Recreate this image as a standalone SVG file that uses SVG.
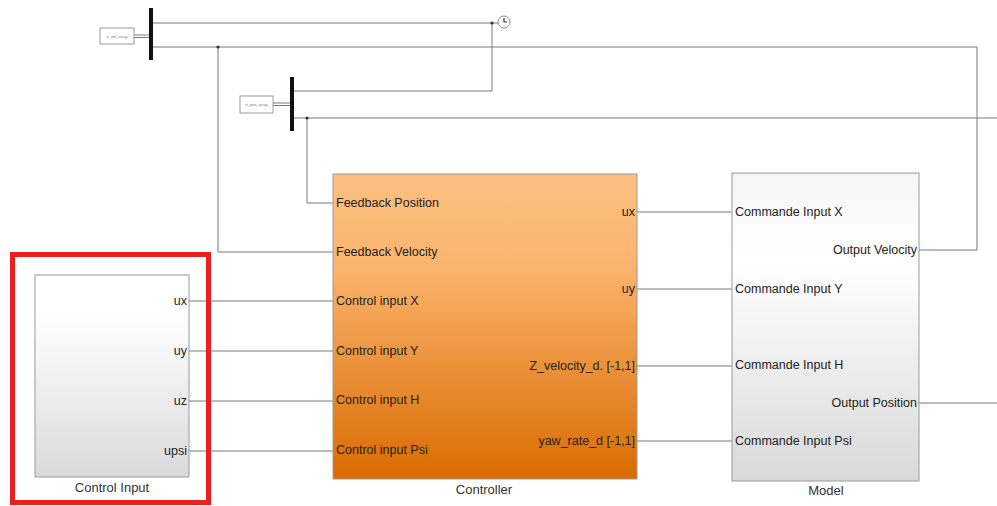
<svg xmlns="http://www.w3.org/2000/svg" width="997" height="506" viewBox="0 0 997 506">
<defs>
<linearGradient id="gOrange" x1="0" y1="0" x2="0" y2="1">
<stop offset="0" stop-color="#fdc081"/>
<stop offset="0.3" stop-color="#fbb46d"/>
<stop offset="1" stop-color="#d96b00"/>
</linearGradient>
<linearGradient id="gGrey" x1="0" y1="0" x2="0" y2="1">
<stop offset="0" stop-color="#f6f6f6"/>
<stop offset="0.3" stop-color="#ffffff"/>
<stop offset="1" stop-color="#d9d9d9"/>
</linearGradient>
<linearGradient id="gGrey2" x1="0" y1="0" x2="0" y2="1">
<stop offset="0" stop-color="#ffffff"/>
<stop offset="0.2" stop-color="#ffffff"/>
<stop offset="1" stop-color="#dadada"/>
</linearGradient>
</defs>
<style>
.w{fill:none;stroke:#7a7a7a;stroke-width:1}
.blk{stroke:#9a9a9a;stroke-width:1}
.pl{font-family:"Liberation Sans",Arial,sans-serif;font-size:12.5px;fill:#222222}
.nm{font-family:"Liberation Sans",Arial,sans-serif;font-size:13px;fill:#333333;text-anchor:middle}
.tiny{font-family:"Liberation Sans",Arial,sans-serif;font-size:4px;fill:#777777;text-anchor:middle}
.bar{fill:#111111}
.dot{fill:#333333}
</style>
<rect width="997" height="506" fill="#ffffff"/>

<g id="connectors">
<path class="w" d="M153 23 H498"/>
<path class="w" d="M153 47 H977 V250 H919"/>
<path class="w" d="M218 47 V252 H333"/>
<path class="w" d="M294 91 H492 V23"/>
<path class="w" d="M294 118 H997"/>
<path class="w" d="M307 118 V203 H333"/>
<path class="w" d="M134 35 H149 M134 37.5 H149"/>
<path class="w" d="M273 103 H290 M273 105.5 H290"/>
<path class="w" d="M189 301 H333"/>
<path class="w" d="M189 351 H333"/>
<path class="w" d="M189 401 H333"/>
<path class="w" d="M189 451 H333"/>
<path class="w" d="M637 212 H732"/>
<path class="w" d="M637 289 H732"/>
<path class="w" d="M637 366 H732"/>
<path class="w" d="M637 441 H732"/>
<path class="w" d="M919 403 H997"/>
<circle class="dot" cx="492" cy="23" r="1.6"/>
<circle class="dot" cx="218" cy="47" r="1.6"/>
<circle class="dot" cx="307" cy="118" r="1.6"/>
</g>

<g id="velArray">
<rect x="100" y="28" width="34" height="16" fill="#ffffff" stroke="#9a9a9a" stroke-width="1"/>
<text class="tiny" x="117" y="37.5">rt_vel_array</text>
</g>
<g id="busVel">
<rect class="bar" x="149" y="8" width="4" height="52"/>
</g>

<g id="posArray">
<rect x="240" y="96" width="33" height="17" fill="#ffffff" stroke="#9a9a9a" stroke-width="1"/>
<text class="tiny" x="256.5" y="106">rt_pos_array</text>
</g>
<g id="busPos">
<rect class="bar" x="290" y="77" width="4" height="54"/>
</g>

<g id="clock">
<circle cx="504" cy="22" r="6" fill="#ffffff" stroke="#888888" stroke-width="1"/>
<path d="M504 18 V22 H507" fill="none" stroke="#333333" stroke-width="1.2"/>
</g>

<g id="controlInput">
<rect x="35" y="275" width="154" height="202" fill="url(#gGrey2)" class="blk"/>
<text class="pl" x="187" y="305" text-anchor="end">ux</text>
<text class="pl" x="187" y="355" text-anchor="end">uy</text>
<text class="pl" x="187" y="405" text-anchor="end">uz</text>
<text class="pl" x="187" y="455" text-anchor="end">upsi</text>
<text class="nm" x="112" y="492">Control Input</text>
</g>

<g id="highlight">
<rect x="12.5" y="254.5" width="196" height="248" fill="none" stroke="#e82020" stroke-width="5"/>
</g>

<g id="controller">
<rect x="333" y="174" width="304" height="305" fill="url(#gOrange)" class="blk"/>
<text class="pl" x="336" y="207">Feedback Position</text>
<text class="pl" x="336" y="256">Feedback Velocity</text>
<text class="pl" x="336" y="305">Control input X</text>
<text class="pl" x="336" y="355">Control input Y</text>
<text class="pl" x="336" y="404">Control input H</text>
<text class="pl" x="336" y="454">Control input Psi</text>
<text class="pl" x="635" y="216" text-anchor="end">ux</text>
<text class="pl" x="635" y="293" text-anchor="end">uy</text>
<text class="pl" x="635" y="370" text-anchor="end">Z_velocity_d. [-1,1]</text>
<text class="pl" x="635" y="445" text-anchor="end">yaw_rate_d [-1,1]</text>
<text class="nm" x="484" y="494">Controller</text>
</g>

<g id="model">
<rect x="732" y="173" width="187" height="308" fill="url(#gGrey)" class="blk"/>
<text class="pl" x="735" y="216">Commande Input X</text>
<text class="pl" x="735" y="293">Commande Input Y</text>
<text class="pl" x="735" y="369">Commande Input H</text>
<text class="pl" x="735" y="445">Commande Input Psi</text>
<text class="pl" x="917" y="254" text-anchor="end">Output Velocity</text>
<text class="pl" x="917" y="407" text-anchor="end">Output Position</text>
<text class="nm" x="826" y="495">Model</text>
</g>
</svg>
